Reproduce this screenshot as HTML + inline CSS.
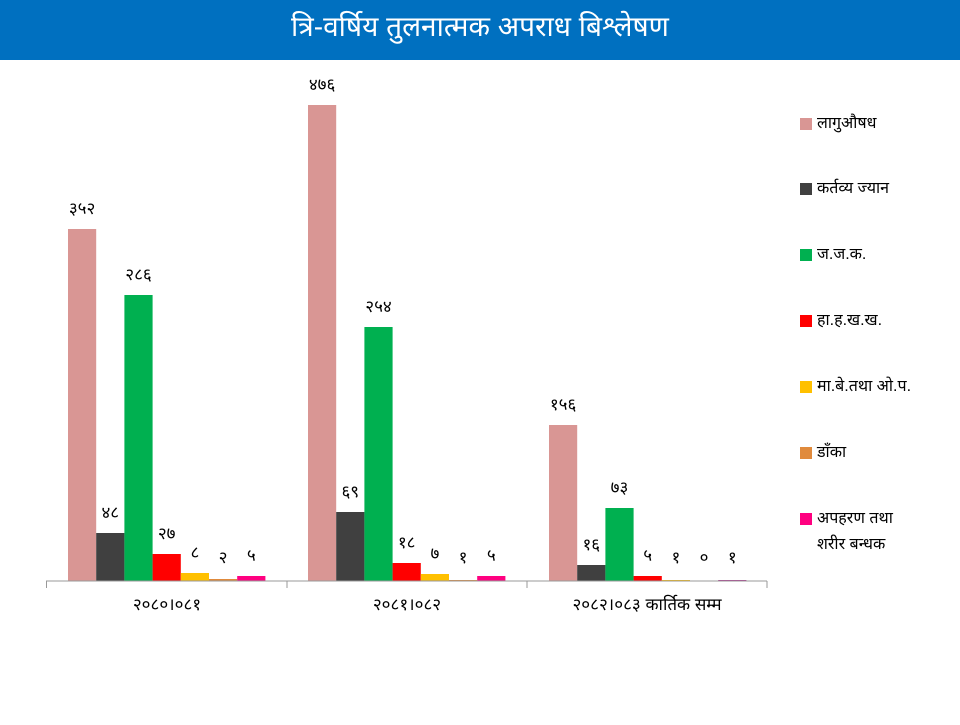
<!DOCTYPE html>
<html><head><meta charset="utf-8"><style>
body{margin:0;width:960px;height:720px;background:#fff;overflow:hidden;font-family:"Liberation Sans","Noto Sans Devanagari","Lohit Devanagari",sans-serif}
</style></head><body>
<svg width="960" height="720" xmlns="http://www.w3.org/2000/svg" font-family="'Liberation Sans','Noto Sans Devanagari',sans-serif">
<rect x="0" y="0" width="960" height="60" fill="#0070C0"/>
<text x="480" y="36" fill="#fff" font-size="28" text-anchor="middle">त्रि-वर्षिय तुलनात्मक अपराध बिश्लेषण</text>
<g id="bars"></g>
<line x1="46" y1="581" x2="767" y2="581" stroke="#999" stroke-width="1"/>
<g stroke="#999"><line x1="46.5" y1="581" x2="46.5" y2="588"/><line x1="287" y1="581" x2="287" y2="588"/><line x1="527" y1="581" x2="527" y2="588"/><line x1="767" y1="581" x2="767" y2="588"/></g>
<g font-size="17" text-anchor="middle" fill="#000">
<text x="167" y="610">२०८०।०८१</text>
<text x="407" y="610">२०८१।०८२</text>
<text x="647" y="610">२०८२।०८३ कार्तिक सम्म</text>
</g>
<g font-size="16" fill="#000">
<rect x="800" y="118" width="12" height="12" fill="#D99694"/><text x="817" y="128">लागुऔषध</text>
<rect x="800" y="183" width="12" height="12" fill="#404040"/><text x="817" y="193">कर्तव्य ज्यान</text>
<rect x="800" y="249" width="12" height="12" fill="#00B050"/><text x="817" y="259">ज.ज.क.</text>
<rect x="800" y="315" width="12" height="12" fill="#FF0000"/><text x="817" y="325">हा.ह.ख.ख.</text>
<rect x="800" y="381" width="12" height="12" fill="#FFC000"/><text x="817" y="391">मा.बे.तथा ओ.प.</text>
<rect x="800" y="447" width="12" height="12" fill="#E08A3C"/><text x="817" y="457">डाँका</text>
<rect x="800" y="513" width="12" height="12" fill="#FF0080"/><text x="817" y="523">अपहरण तथा</text>
<text x="817" y="549">शरीर बन्धक</text>
</g>
</svg>
<script>
var cols=["#D99694","#404040","#00B050","#FF0000","#FFC000","#E08A3C","#FF0080"];
var data=[[352,48,286,27,8,2,5],[476,69,254,18,7,1,5],[156,16,73,5,1,0,1]];
var lab=[["३५२","४८","२८६","२७","८","२","५"],["४७६","६९","२५४","१८","७","१","५"],["१५६","१६","७३","५","१","०","१"]];
var starts=[68,308,549],w=28.2,g=document.getElementById("bars"),s="";
for(var i=0;i<3;i++)for(var j=0;j<7;j++){var x=starts[i]+j*w,v=data[i][j],h=Math.max(v,0);
var c=(i==2&&j==6)?"#B0308F":cols[j];
s+='<rect x="'+x+'" y="'+(581-h)+'" width="'+w+'" height="'+h+'" fill="'+c+'"/>';
var ly=581-Math.max(h,3)-15;
s+='<text x="'+(x+w/2)+'" y="'+ly+'" font-size="17" text-anchor="middle" fill="#000">'+lab[i][j]+'</text>';}
g.innerHTML=s;
</script>
</body></html>
